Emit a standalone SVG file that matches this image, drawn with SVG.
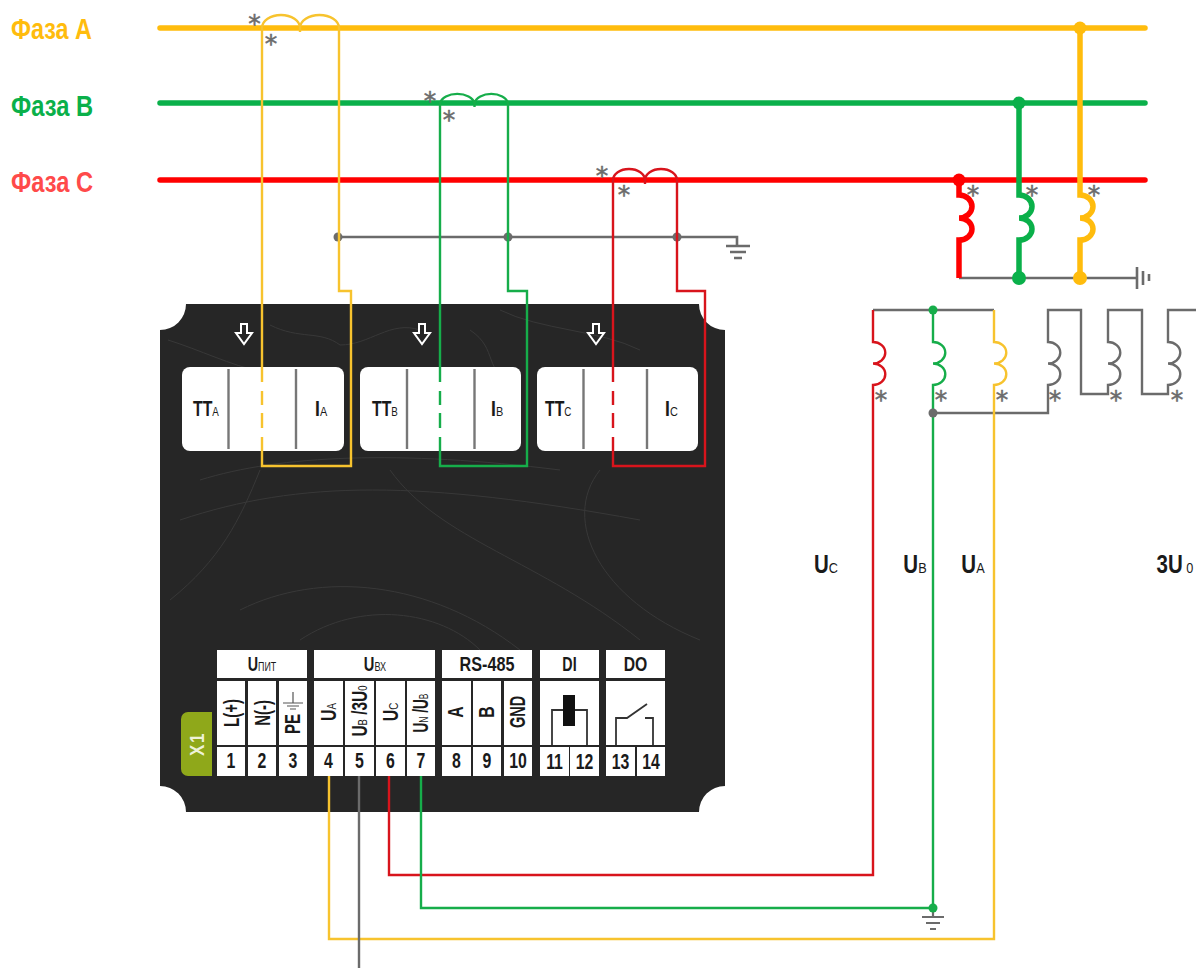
<svg xmlns="http://www.w3.org/2000/svg" width="1196" height="970" viewBox="0 0 1196 970">
<style>
text{font-family:"Liberation Sans",Arial,sans-serif;font-weight:700;fill:#1a1a1a}
.w{fill:none;stroke-linejoin:miter}
.y{stroke:#f7c32e}.g{stroke:#16ad4a}.r{stroke:#d8141c}.k{stroke:#6b6b6b}
.yb{stroke:#ffbc0d}.gb{stroke:#0ab04a}.rb{stroke:#ff0000}
.t2{stroke-width:2.400}.t5{stroke-width:5.500;stroke-linecap:round}
.cell{fill:#fff}
.leaf{fill:none;stroke:#383838;stroke-width:1}
.as{font-family:"DejaVu Sans",sans-serif;font-weight:400;font-size:25px;fill:#6b6b6b;stroke:#6b6b6b;stroke-width:.5;text-anchor:middle}
.n{font-size:22px;text-anchor:middle}
.h{font-size:21px;text-anchor:middle}
.v{font-size:22px;text-anchor:middle}
.s{font-size:.62em;font-weight:400}
.div{stroke:#777;stroke-width:2.400}
.b{font-size:22px}
.ph{font-size:29px}
.lb{font-size:25px;text-anchor:middle}
</style>

<g id="panel">
<path fill="#262626" d="M186 304H699A26 26 0 0 0 725 330V786A26 26 0 0 0 699 812H186A26 26 0 0 0 160 786V330A26 26 0 0 0 186 304Z"/>
<path class="leaf" d="M168 340C200 350 230 365 262 372M270 325C300 340 320 330 340 345C370 345 390 320 420 330M470 330C500 350 480 370 520 390M200 480C280 455 400 450 560 470M180 520C300 480 420 480 640 520M240 610C320 570 430 580 520 650M170 600C220 560 240 520 260 470M390 470C440 540 540 560 640 640M600 470C560 520 600 600 700 640M300 640C360 600 440 610 480 650M500 310C540 330 600 330 640 350"/>
</g>

<g id="ct-box-a"><rect class="cell" x="182" y="367" width="162" height="84" rx="8"/><line class="div" x1="228.500" y1="369" x2="228.500" y2="449"/><line class="div" x1="296" y1="369" x2="296" y2="449"/><text class="b" transform="translate(193,416) scale(.72,1)">TT<tspan class="s">A</tspan></text><text class="b" transform="translate(315,416) scale(.8,1)">I<tspan class="s">A</tspan></text></g>
<g id="ct-box-b"><rect class="cell" x="360" y="367" width="161" height="84" rx="8"/><line class="div" x1="407" y1="369" x2="407" y2="449"/><line class="div" x1="474.500" y1="369" x2="474.500" y2="449"/><text class="b" transform="translate(372,416) scale(.72,1)">TT<tspan class="s">B</tspan></text><text class="b" transform="translate(491,416) scale(.8,1)">I<tspan class="s">B</tspan></text></g>
<g id="ct-box-c"><rect class="cell" x="537" y="367" width="161" height="84" rx="8"/><line class="div" x1="583.500" y1="369" x2="583.500" y2="449"/><line class="div" x1="647" y1="369" x2="647" y2="449"/><text class="b" transform="translate(545,416) scale(.72,1)">TT<tspan class="s">C</tspan></text><text class="b" transform="translate(665,416) scale(.8,1)">I<tspan class="s">C</tspan></text></g>
<g id="arrows" fill="none" stroke="#fff" stroke-width="2">
<path id="arrow-a" d="M241 324H247V333H252L244 344L236 333H241Z"/>
<path id="arrow-b" d="M419 324H425V333H430L422 344L414 333H419Z"/>
<path id="arrow-c" d="M593 324H599V333H604L596 344L588 333H593Z"/>
</g>

<g id="terminal-x1">
<path fill="#8fa81a" d="M212 712H188A7 7 0 0 0 181 719V769A7 7 0 0 0 188 776H212Z"/>
<text transform="translate(204,744) rotate(-90) scale(.85,1)" font-size="20" text-anchor="middle" letter-spacing="2" style="fill:#eef2d8">X1</text>
</g>
<g id="block-pit">
<rect class="cell" x="217" y="650" width="90" height="28"/>
<text class="h" transform="translate(262,671) scale(.68,1)">U<tspan class="s">ПИТ</tspan></text>
<rect class="cell" x="217" y="681" width="28" height="64"/><rect class="cell" x="248" y="681" width="28" height="64"/><rect class="cell" x="279" y="681" width="28" height="64"/>
<rect class="cell" x="217" y="747" width="28" height="29"/><rect class="cell" x="248" y="747" width="28" height="29"/><rect class="cell" x="279" y="747" width="28" height="29"/>
<text class="v" transform="translate(239,713) rotate(-90) scale(.68,1)">L(+)</text>
<text class="v" transform="translate(270,713) rotate(-90) scale(.68,1)">N(-)</text>
<text class="v" transform="translate(300,724) rotate(-90) scale(.68,1)">PE</text>
<path d="M293 692V703M283 703H303M287 706H299M290 709H296" stroke="#555" stroke-width="1.200" fill="none"/>
<text class="n" transform="translate(231,768) scale(.72,1)">1</text><text class="n" transform="translate(262,768) scale(.72,1)">2</text><text class="n" transform="translate(293,768) scale(.72,1)">3</text>
</g>
<g id="block-vh">
<rect class="cell" x="314" y="650" width="121" height="28"/>
<text class="h" transform="translate(375,671) scale(.7,1)">U<tspan class="s">ВХ</tspan></text>
<rect class="cell" x="314" y="681" width="29" height="64"/><rect class="cell" x="345" y="681" width="29" height="64"/><rect class="cell" x="376" y="681" width="29" height="64"/><rect class="cell" x="407" y="681" width="28" height="64"/>
<rect class="cell" x="314" y="747" width="29" height="29"/><rect class="cell" x="345" y="747" width="29" height="29"/><rect class="cell" x="376" y="747" width="29" height="29"/><rect class="cell" x="407" y="747" width="28" height="29"/>
<text class="v" transform="translate(336,712) rotate(-90) scale(.72,1)">U<tspan class="s">A</tspan></text>
<text class="v" transform="translate(367,711) rotate(-90) scale(.7,1)">U<tspan class="s">B</tspan> /3U<tspan class="s">0</tspan></text>
<text class="v" transform="translate(398,712) rotate(-90) scale(.72,1)">U<tspan class="s">C</tspan></text>
<text class="v" transform="translate(428,713) rotate(-90) scale(.62,1)">U<tspan class="s">N</tspan> /U<tspan class="s">B</tspan></text>
<text class="n" transform="translate(328.500,768) scale(.72,1)">4</text><text class="n" transform="translate(359.500,768) scale(.72,1)">5</text><text class="n" transform="translate(390.500,768) scale(.72,1)">6</text><text class="n" transform="translate(421,768) scale(.72,1)">7</text>
</g>
<g id="block-rs485">
<rect class="cell" x="442" y="650" width="90" height="28"/>
<text class="h" transform="translate(487,671) scale(.77,1)">RS-485</text>
<rect class="cell" x="442" y="681" width="29" height="64"/><rect class="cell" x="473" y="681" width="28" height="64"/><rect class="cell" x="504" y="681" width="28" height="64"/>
<rect class="cell" x="442" y="747" width="29" height="29"/><rect class="cell" x="473" y="747" width="28" height="29"/><rect class="cell" x="504" y="747" width="28" height="29"/>
<text class="v" transform="translate(463,712) rotate(-90) scale(.72,1)">A</text>
<text class="v" transform="translate(494,712) rotate(-90) scale(.72,1)">B</text>
<text class="v" transform="translate(525,712) rotate(-90) scale(.66,1)">GND</text>
<text class="n" transform="translate(456.500,768) scale(.72,1)">8</text><text class="n" transform="translate(487,768) scale(.72,1)">9</text><text class="n" transform="translate(518,768) scale(.72,1)">10</text>
</g>
<g id="block-di">
<rect class="cell" x="540" y="650" width="59" height="28"/>
<text class="h" transform="translate(569.500,671) scale(.68,1)">DI</text>
<rect class="cell" x="540" y="681" width="59" height="64"/>
<rect class="cell" x="540" y="747" width="29" height="29"/><rect class="cell" x="570" y="747" width="29" height="29"/>
<path d="M552 745V710H587V745" fill="none" stroke="#333" stroke-width="1.800"/>
<rect x="563" y="695" width="12" height="31" fill="#111"/>
<text class="n" transform="translate(554.500,769) scale(.72,1)">11</text><text class="n" transform="translate(584.500,769) scale(.72,1)">12</text>
</g>
<g id="block-do">
<rect class="cell" x="606" y="650" width="59" height="28"/>
<text class="h" transform="translate(635.500,671) scale(.75,1)">DO</text>
<rect class="cell" x="606" y="681" width="59" height="64"/>
<rect class="cell" x="606" y="747" width="29" height="29"/><rect class="cell" x="637" y="747" width="28" height="29"/>
<path d="M616 745V718H627L647 704M653 745V718H645" fill="none" stroke="#333" stroke-width="1.800"/>
<text class="n" transform="translate(620.500,769) scale(.72,1)">13</text><text class="n" transform="translate(651,769) scale(.72,1)">14</text>
</g>

<g id="phase-labels">
<text class="ph" x="11" y="39" textLength="81" lengthAdjust="spacingAndGlyphs" style="fill:#ffbc0d">Фаза A</text>
<text class="ph" x="11" y="116" textLength="82" lengthAdjust="spacingAndGlyphs" style="fill:#0ab04a">Фаза B</text>
<text class="ph" x="11" y="192" textLength="82" lengthAdjust="spacingAndGlyphs" style="fill:#ff4a4a">Фаза C</text>
</g>

<g id="connectors">
<path class="w yb t5" d="M160 28H1145"/>
<path class="w gb t5" d="M160 103H1145"/>
<path class="w rb t5" d="M160 180H1145"/>

<path class="w k" stroke-width="2.600" d="M338 237H737V245M726 246H750M730 252H746M734 258H742"/>
<circle cx="338" cy="237" r="4.500" fill="#6b6b6b"/><circle cx="508" cy="237" r="4.500" fill="#6b6b6b"/><circle cx="677" cy="237" r="4.500" fill="#6b6b6b"/>

<path class="w y t2" d="M262 382V28A19 13 0 0 1 300 28V32M300 28A19.500 13 0 0 1 339 28V291H351V466H262V437M262 428V413M262 405V391"/>
<path class="w g t2" d="M440 382V103A17.500 11 0 0 1 474.500 103V107M474.500 103A17 11 0 0 1 508 103V291H527V466H440V437M440 428V413M440 405V391"/>
<path class="w r t2" d="M613 382V180A16 11 0 0 1 645 180V184M645 180A16 11 0 0 1 677 180V291H705V466H613V437M613 428V413M613 405V391"/>

<path class="w k" stroke-width="2.600" d="M959 278H1137M1137 267V289M1143 271V285M1149 274V281"/>
<path class="w rb" stroke-width="5.500" d="M959 180V195A13 11.500 0 0 1 959 218A13 11 0 0 1 959 240V278"/>
<path class="w gb" stroke-width="5.500" d="M1019 103V195A13 11.500 0 0 1 1019 218A13 11 0 0 1 1019 240V278"/>
<path class="w yb" stroke-width="5.500" d="M1080 28V195A13 11.500 0 0 1 1080 218A13 11 0 0 1 1080 240V278"/>
<circle cx="959" cy="180" r="6.500" fill="#ff0000"/><circle cx="1019" cy="103" r="6.500" fill="#0ab04a"/><circle cx="1080" cy="28" r="6.500" fill="#ffbc0d"/>
<circle cx="1019" cy="278" r="7" fill="#0ab04a"/><circle cx="1080" cy="278" r="7" fill="#ffbc0d"/>

<path class="w k" stroke-width="2.400" d="M873 310H994M933 413H1048V385A12 10.500 0 0 0 1048 363.500A12 10.500 0 0 0 1048 342V310H1081V394H1108V385A12 10.500 0 0 0 1108 363.500A12 10.500 0 0 0 1108 342V310H1142V394H1168V385A12 10.500 0 0 0 1168 363.500A12 10.500 0 0 0 1168 342V310H1196"/>
<path class="w r t2" d="M873 310V342A12 10.500 0 0 1 873 363.500A12 10.500 0 0 1 873 385V875H389V776"/>
<path class="w g t2" d="M933 310V342A12 10.500 0 0 1 933 363.500A12 10.500 0 0 1 933 385V908H421V776"/>
<path class="w y t2" d="M994 310V342A12 10.500 0 0 1 994 363.500A12 10.500 0 0 1 994 385V939H329V776"/>
<path class="w k t2" d="M359 776V968"/>
<path class="w k" stroke-width="2.200" d="M933 908V917M922 917H944M926 923H940M930 929H936"/>
<circle cx="933" cy="310" r="4.500" fill="#16ad4a"/>
<circle cx="933" cy="413" r="4.500" fill="#6b6b6b"/>
<circle cx="933" cy="908" r="4.500" fill="#16ad4a"/>
</g>

<g id="asterisks">
<text class="as" x="254.500" y="32">*</text><text class="as" x="271" y="52">*</text>
<text class="as" x="430" y="109">*</text><text class="as" x="449" y="128">*</text>
<text class="as" x="602" y="184">*</text><text class="as" x="624" y="203">*</text>
<text class="as" x="973" y="203">*</text><text class="as" x="1032" y="203">*</text><text class="as" x="1094" y="203">*</text>
<text class="as" x="881" y="408">*</text><text class="as" x="941" y="408">*</text><text class="as" x="1002" y="408">*</text><text class="as" x="1055" y="408">*</text><text class="as" x="1116" y="408">*</text><text class="as" x="1177" y="408">*</text>
</g>

<g id="voltage-labels">
<text class="lb" transform="translate(826,573) scale(.82,1)">U<tspan class="s">C</tspan></text>
<text class="lb" transform="translate(915,573) scale(.82,1)">U<tspan class="s">B</tspan></text>
<text class="lb" transform="translate(973,573) scale(.82,1)">U<tspan class="s">A</tspan></text>
<text class="lb" transform="translate(1175,573) scale(.82,1)">3U<tspan class="s"> 0</tspan></text>
</g>
</svg>
